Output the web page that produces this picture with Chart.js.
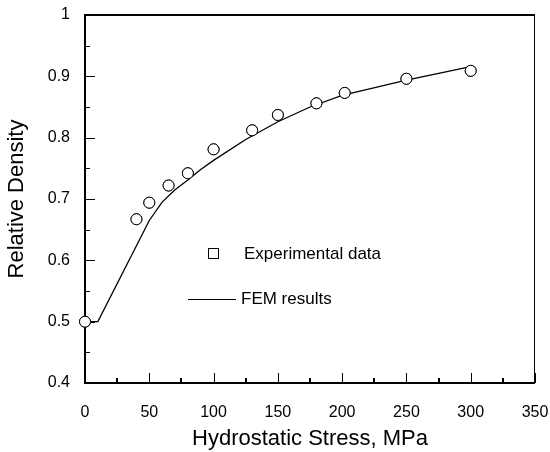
<!DOCTYPE html>
<html>
<head>
<meta charset="utf-8">
<script src="https://cdn.jsdelivr.net/npm/chart.js@4.4.1/dist/chart.umd.min.js"></script>
<style>
  html, body { margin: 0; padding: 0; background: #fff; }
</style>
</head>
<body>
<canvas id="densityChart" width="550" height="452"></canvas>
<script>
// Experimental data (circles)
const expStress = [0, 40, 50, 65, 80, 100, 130, 150, 180, 202, 250, 300];
const expDensity = [0.5, 0.667, 0.694, 0.722, 0.742, 0.781, 0.812, 0.837, 0.856, 0.873, 0.896, 0.909];

// FEM results (line)
const femStress = [0, 10, 50, 60, 70, 80, 90, 100, 125, 150, 175, 200, 250, 300];
const femDensity = [0.5, 0.5, 0.665, 0.695, 0.715, 0.731, 0.748, 0.763, 0.797, 0.826, 0.85, 0.869, 0.894, 0.916];

const legendLabels = ['Experimental data', 'FEM results'];

const FONT = "'Liberation Sans', Arial, sans-serif";

function toPoints(xs, ys) {
    return xs.map((x, i) => ({ x: x, y: ys[i] }));
}

// no extra room for overhanging tick labels, the plot box is fixed
function noPad(scale) {
    scale.paddingLeft = 0;
    scale.paddingRight = 0;
    scale.paddingTop = 0;
    scale.paddingBottom = 0;
}

// Frame, inward ticks and the in-plot legend
const framePlugin = {
    id: 'frame',
    afterDatasetsDraw(chart) {
        const ctx = chart.ctx;
        const xs = chart.scales.x;
        const ys = chart.scales.y;
        const L = Math.round(xs.left), R = Math.round(xs.right);
        const T = Math.round(ys.top), B = Math.round(ys.bottom);
        ctx.save();
        ctx.fillStyle = '#000';

        // frame: left, top, bottom heavy, right thin
        ctx.fillRect(L - 1, T - 1, R - L + 1, 2);
        ctx.fillRect(L - 1, T - 1, 2, B - T + 2);
        ctx.fillRect(L - 1, B - 1, R - L + 1, 2);
        ctx.fillRect(R - 1, T - 1, 1, B - T + 1);

        // y ticks (major + minor), pointing inward
        const yt = ys.ticks.map(t => t.value);
        yt.forEach((v, i) => {
            const py = Math.round(ys.getPixelForValue(v));
            ctx.fillRect(L, py, 10, 1);
            if (i < yt.length - 1) {
                const my = Math.round(ys.getPixelForValue((v + yt[i + 1]) / 2));
                ctx.fillRect(L, my, 5, 1);
            }
        });

        // x ticks
        const xt = xs.ticks.map(t => t.value);
        xt.forEach((v, i) => {
            const px = Math.round(xs.getPixelForValue(v));
            ctx.fillRect(px, B - 10, 1, 10);
            if (i < xt.length - 1) {
                const mx = Math.round(xs.getPixelForValue((v + xt[i + 1]) / 2));
                ctx.fillRect(mx - 1, B - 5, 2, 5);
            }
        });

        // legend
        ctx.strokeStyle = '#000';
        ctx.font = '17px ' + FONT;
        ctx.textBaseline = 'middle';
        ctx.textAlign = 'left';
        ctx.lineWidth = 1;
        ctx.strokeRect(208.5, 248.5, 10, 10);
        ctx.fillText(legendLabels[0], 244, 254);
        ctx.beginPath(); ctx.moveTo(188, 299.5); ctx.lineTo(236, 299.5); ctx.stroke();
        ctx.fillText(legendLabels[1], 241, 299);

        // redraw the markers so they sit on top of the frame
        chart.getDatasetMeta(0).data.forEach(pt => pt.draw(ctx));
        ctx.restore();
    }
};

const ctx = document.getElementById('densityChart').getContext('2d');
new Chart(ctx, {
    type: 'scatter',
    data: {
        datasets: [{
            label: legendLabels[0],
            data: toPoints(expStress, expDensity),
            pointRadius: 5.5,
            pointBorderWidth: 1,
            pointBorderColor: '#000',
            pointBackgroundColor: '#fff',
            showLine: false,
            clip: false
        }, {
            label: legendLabels[1],
            data: toPoints(femStress, femDensity),
            showLine: true,
            borderColor: '#000',
            borderWidth: 1.3,
            pointRadius: 0,
            tension: 0
        }]
    },
    options: {
        responsive: false,
        animation: false,
        layout: { padding: { left: 0, top: 15, right: 15, bottom: 0 } },
        plugins: {
            legend: { display: false },
            tooltip: { enabled: false }
        },
        scales: {
            x: {
                type: 'linear',
                min: 0,
                max: 350,
                ticks: { stepSize: 50, autoSkip: false, maxRotation: 0, color: '#000', padding: 20, font: { size: 16, family: FONT } },
                grid: { display: false, drawTicks: false },
                border: { display: false },
                title: { display: true, text: 'Hydrostatic Stress, MPa', color: '#000', padding: 0, font: { size: 22, family: FONT } },
                afterFit(scale) { scale.height = 69; noPad(scale); }
            },
            y: {
                type: 'linear',
                min: 0.4,
                max: 1,
                ticks: {
                    stepSize: 0.1, autoSkip: false, color: '#000', padding: 15, font: { size: 16, family: FONT },
                    callback: value => String(parseFloat(value.toFixed(2)))
                },
                grid: { display: false, drawTicks: false },
                border: { display: false },
                title: { display: true, text: 'Relative Density', color: '#000', padding: { top: 4, bottom: 0 }, font: { size: 22, family: FONT } },
                afterFit(scale) { scale.width = 85; noPad(scale); }
            }
        }
    },
    plugins: [framePlugin]
});
</script>
</body>
</html>
